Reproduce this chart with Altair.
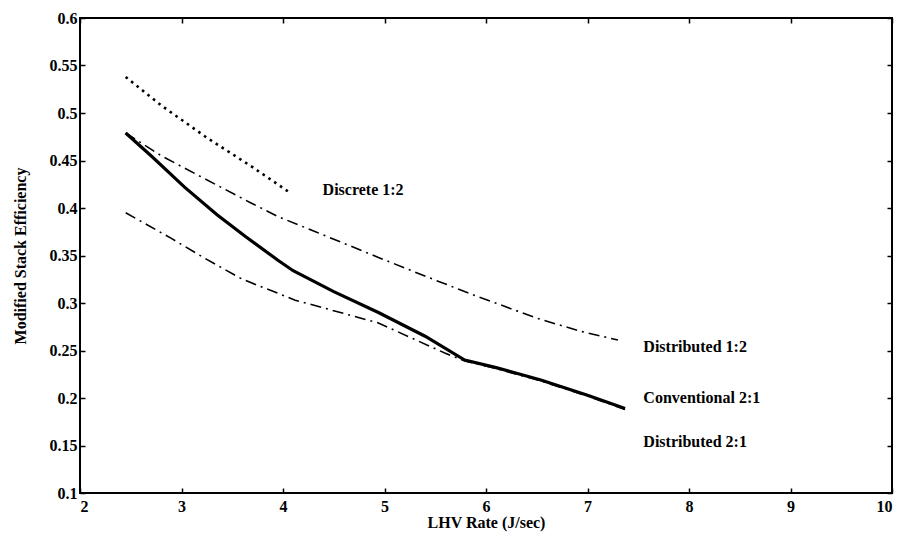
import altair as alt
import pandas as pd

# Conventional 2:1 (solid thick)
conv_x = [2.45, 2.70, 3.03, 3.35, 3.63, 3.95, 4.10, 4.50, 4.94, 5.40, 5.79, 6.10, 6.54, 7.00, 7.37]
conv_y = [0.479, 0.455, 0.422, 0.393, 0.370, 0.345, 0.334, 0.312, 0.290, 0.265, 0.240, 0.232, 0.219, 0.203, 0.189]

# Distributed 1:2 (upper dash-dot)
d12_x = [2.45, 2.80, 3.19, 3.69, 3.95, 4.32, 4.94, 5.43, 5.89, 6.50, 6.94, 7.30]
d12_y = [0.479, 0.455, 0.433, 0.405, 0.391, 0.375, 0.348, 0.327, 0.308, 0.284, 0.270, 0.261]

# Distributed 2:1 (lower dash-dot)
d21_x = [2.45, 2.90, 3.23, 3.60, 4.12, 4.94, 5.60, 5.79, 6.10, 6.54, 7.00, 7.37]
d21_y = [0.395, 0.368, 0.347, 0.325, 0.303, 0.279, 0.247, 0.239, 0.231, 0.218, 0.202, 0.188]

# Discrete 1:2 (dotted)
disc_x = [2.45, 2.80, 3.25, 3.70, 4.07]
disc_y = [0.538, 0.508, 0.474, 0.443, 0.416]

label_text = ["Discrete 1:2", "Distributed 1:2", "Conventional 2:1", "Distributed 2:1"]
label_x = [4.39, 7.55, 7.55, 7.55]
label_y = [0.419, 0.254, 0.200, 0.154]

x_ticks = [2, 3, 4, 5, 6, 7, 8, 9, 10]
y_ticks = [0.1, 0.15, 0.2, 0.25, 0.3, 0.35, 0.4, 0.45, 0.5, 0.55, 0.6]

FONT = "Liberation Serif"

xs = alt.Scale(domain=[2, 10], nice=False, zero=False)
ys = alt.Scale(domain=[0.1, 0.6], nice=False, zero=False)

x_axis = alt.Axis(values=x_ticks, title="LHV Rate (J/sec)", offset=-5, domain=False,
                  tickSize=5, tickWidth=1.5, tickColor="black", labelPadding=5,
                  titlePadding=0, grid=False)
y_axis = alt.Axis(values=y_ticks, title="Modified Stack Efficiency", offset=-5, domain=False,
                  tickSize=5, tickWidth=1.5, tickColor="black", labelPadding=3, format="~g",
                  titlePadding=21, grid=False)


def line_layer(xv, yv, with_axes, **mark):
    df = pd.DataFrame({"x": xv, "y": yv, "o": list(range(len(xv)))})
    return alt.Chart(df).mark_line(color="black", **mark).encode(
        x=alt.X("x:Q", scale=xs, axis=x_axis if with_axes else None),
        y=alt.Y("y:Q", scale=ys, axis=y_axis if with_axes else None),
        order="o:Q",
    )


conv = line_layer(conv_x, conv_y, True, strokeWidth=3.2)
d12 = line_layer(d12_x, d12_y, False, strokeWidth=1.6, strokeDash=[11, 5, 2, 5])
d21 = line_layer(d21_x, d21_y, False, strokeWidth=1.6, strokeDash=[11, 5, 2, 5])
disc = line_layer(disc_x, disc_y, False, strokeWidth=2.6, strokeDash=[2.6, 4.4])

frame_axis_x = alt.Axis(orient="top", values=x_ticks, labels=False, title=None,
                        offset=-5, domain=False, tickSize=5, tickWidth=1.5,
                        tickColor="black", grid=False)
frame_axis_y = alt.Axis(orient="right", values=y_ticks, labels=False, title=None,
                        offset=-5, domain=False, tickSize=5, tickWidth=1.5,
                        tickColor="black", grid=False)

labels_df = pd.DataFrame({"t": label_text, "x": label_x, "y": label_y})
labels = alt.Chart(labels_df).mark_text(
    align="left", baseline="middle", font=FONT, fontWeight="bold", fontSize=16, color="black"
).encode(
    x=alt.X("x:Q", scale=xs, axis=frame_axis_x),
    y=alt.Y("y:Q", scale=ys, axis=frame_axis_y),
    text="t:N",
)

chart = alt.layer(conv, d12, d21, disc, labels).resolve_scale(
    x="independent", y="independent"
).resolve_axis(
    x="independent", y="independent"
).properties(
    width=812, height=475,
    padding={"left": 72, "top": 10, "right": 4, "bottom": 41},
    autosize=alt.AutoSizeParams(type="none"),
).configure_view(
    stroke="black", strokeWidth=2
).configure_axis(
    labelFont=FONT, labelFontWeight="bold", labelFontSize=16, labelColor="black",
    titleFont=FONT, titleFontWeight="bold", titleFontSize=16, titleColor="black",
)

chart.save("out.html", embed_options={"renderer": "svg", "actions": False})
